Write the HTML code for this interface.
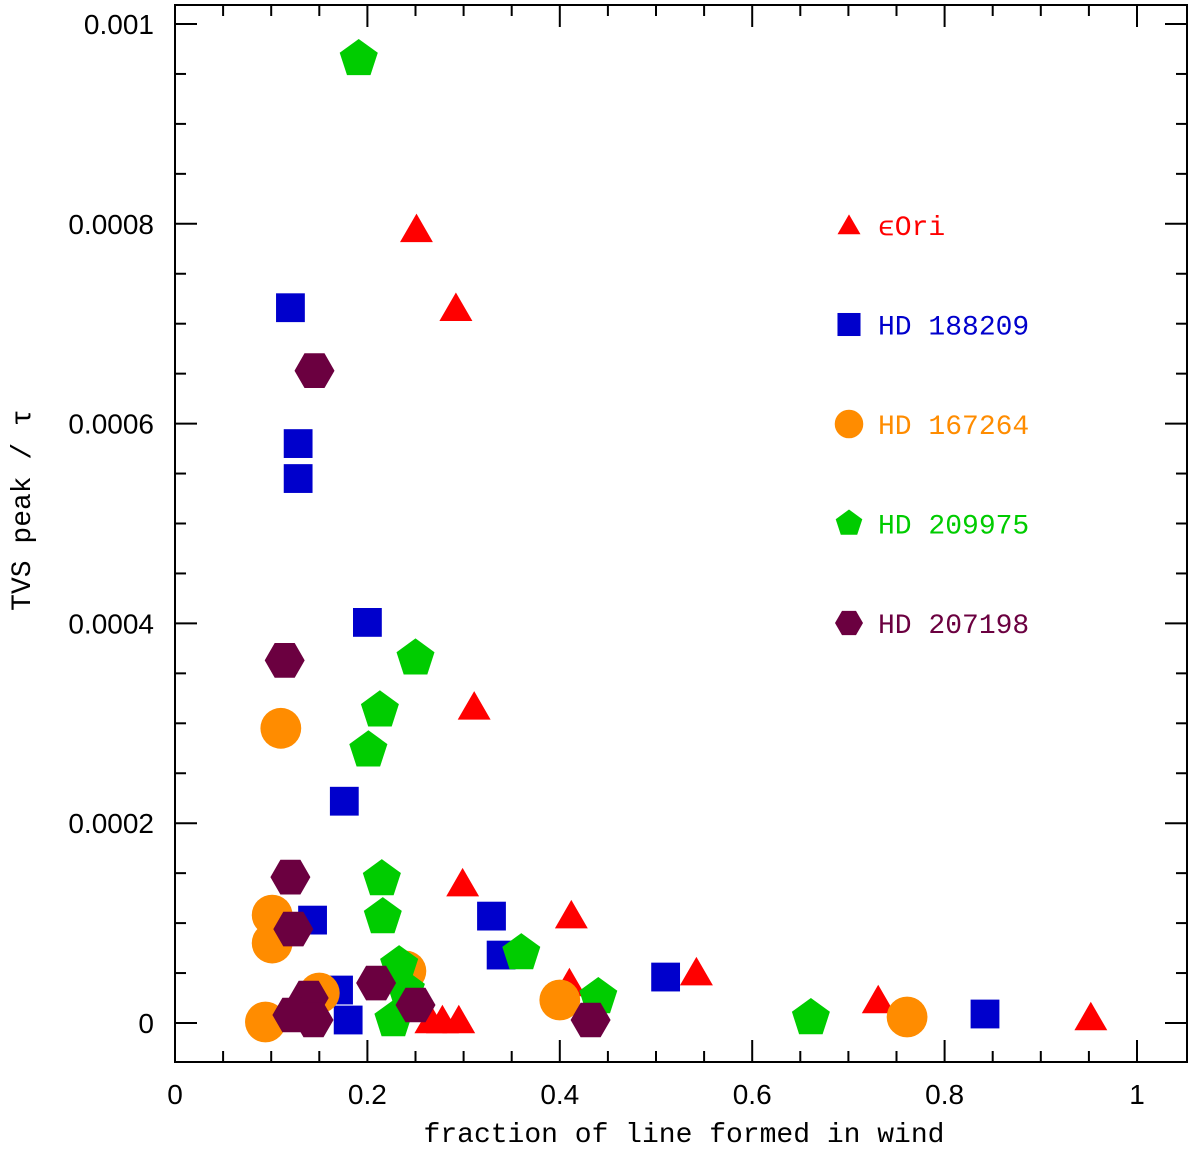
<!DOCTYPE html>
<html><head><meta charset="utf-8"><style>
body{margin:0;background:#fff}
svg text{font-family:"Liberation Sans",sans-serif}
.ser{font-family:"Liberation Mono","Liberation Serif",monospace}
</style></head><body>
<svg id="chart" width="1200" height="1149" xmlns="http://www.w3.org/2000/svg"></svg>
<script>
const seriesNames=["\u03f5Ori","HD 188209","HD 167264","HD 209975","HD 207198"];
const colors=["#ff0000","#0000cc","#ff8c00","#00cc00","#6b0040"];
const shapes=["tri","sq","circ","pent","hex"];
const xE=[0.251,0.292,0.311,0.299,0.412,0.41,0.542,0.731,0.952,0.266,0.278,0.295];
const yE=[0.000795,0.000716,0.000317,0.00014,0.000108,0.00004,0.000051,0.000023,0.000006,0.000003,0.000003,0.000003];
const xB=[0.12,0.128,0.128,0.2,0.176,0.143,0.329,0.339,0.51,0.842,0.17,0.18];
const yB=[0.000716,0.00058,0.000545,0.000401,0.000222,0.000103,0.000107,0.000068,0.000046,0.000009,0.000033,0.000003];
const xO=[0.11,0.101,0.101,0.15,0.094,0.4,0.761,0.24];
const yO=[0.000295,0.000108,0.00008,0.00003,0.000001,0.000023,0.000006,0.000052];
const xG=[0.191,0.25,0.213,0.201,0.215,0.216,0.233,0.24,0.227,0.36,0.44,0.661];
const yG=[0.000965,0.000365,0.000313,0.000273,0.000144,0.000106,0.000058,0.000033,0.000003,0.00007,0.000026,0.000005];
const xP=[0.145,0.114,0.12,0.123,0.209,0.25,0.432,0.139,0.122,0.144];
const yP=[0.000653,0.000363,0.000146,0.000094,0.00004,0.000018,0.000003,0.000025,0.000008,0.000003];
const xTicks=[0,0.2,0.4,0.6,0.8,1];
const xTickLabels=["0","0.2","0.4","0.6","0.8","1"];
const yTicks=[0,0.0002,0.0004,0.0006,0.0008,0.001];
const yTickLabels=["0","0.0002","0.0004","0.0006","0.0008","0.001"];
const seriesX=[xE,xB,xO,xG,xP], seriesY=[yE,yB,yO,yG,yP];
const L=175,R=1187,T=5,B=1062;
const sx=v=>L+v*962, sy=v=>1023-v*999000;
const NS="http://www.w3.org/2000/svg", svg=document.getElementById('chart');
function mk(t,a,p){const e=document.createElementNS(NS,t);for(const k in a)e.setAttribute(k,a[k]);(p||svg).appendChild(e);return e;}
function shape(s,cx,cy,r,col){
  let pts=[];
  if(s==='circ'){return mk('circle',{cx,cy,r:r*1.02,fill:col});}
  if(s==='sq'){const h=r*0.72;return mk('rect',{x:cx-h,y:cy-h,width:2*h,height:2*h,fill:col});}
  const n={tri:3,pent:5,hex:6}[s]; const rr=s==='tri'?r*0.95:r; const off=s==='hex'?0:-Math.PI/2;
  for(let i=0;i<n;i++){const a=off+i*2*Math.PI/n;pts.push((cx+rr*Math.cos(a)).toFixed(1)+','+(cy+rr*Math.sin(a)+(s==='tri'?rr*0.2:0)).toFixed(1));}
  return mk('polygon',{points:pts.join(' '),fill:col});
}
const fr=mk('rect',{x:L,y:T,width:R-L,height:B-T,fill:'none',stroke:'#000','stroke-width':2});

for(let v=0;v<=1.05;v+=0.05){const x=sx(v);const maj=Math.abs(v/0.2-Math.round(v/0.2))<1e-6;const len=maj?22:11;
  mk('line',{x1:x,x2:x,y1:B,y2:B-len,stroke:'#000','stroke-width':2});mk('line',{x1:x,x2:x,y1:T,y2:T+len,stroke:'#000','stroke-width':2});}
xTicks.forEach((v,i)=>{const t=mk('text',{x:sx(v),y:1104,'font-size':28,'text-anchor':'middle'});t.textContent=xTickLabels[i];
  });
for(let v=0;v<=0.00105;v+=0.00005){const y=sy(v);const q=v/0.0002;const maj=Math.abs(q-Math.round(q))<1e-6;const len=maj?22:11;
  mk('line',{x1:L,x2:L+len,y1:y,y2:y,stroke:'#000','stroke-width':2});mk('line',{x1:R,x2:R-len,y1:y,y2:y,stroke:'#000','stroke-width':2});}
yTicks.forEach((v,i)=>{const t=mk('text',{x:154,y:sy(v)+10,'font-size':28,'text-anchor':'end'});t.textContent=yTickLabels[i];
  });
const xt=mk('text',{x:684,y:1142,'font-size':28,'text-anchor':'middle',class:'ser'});xt.textContent='fraction of line formed in wind';

const yt=mk('text',{x:0,y:0,'font-size':28,'text-anchor':'middle',class:'ser',transform:'translate(30,510) rotate(-90)'});yt.textContent='TVS peak / \u03c4';

seriesX.forEach((xs,s)=>{const g=mk('g',{});
  xs.forEach((xv,i)=>{const m=shape(shapes[s],sx(xv),sy(seriesY[s][i]),20,colors[s]);
    g.appendChild(m);});});
seriesNames.forEach((n,i)=>{const y=225+i*99.5;const g=mk('g',{});
  
  g.appendChild(shape(shapes[i],849,y,shapes[i]==='sq'?16:14,colors[i]));
  const t=mk('text',{x:878,y:y+10,'font-size':28,fill:colors[i],class:'ser'},g);t.textContent=n;});
</script>
</body></html>
